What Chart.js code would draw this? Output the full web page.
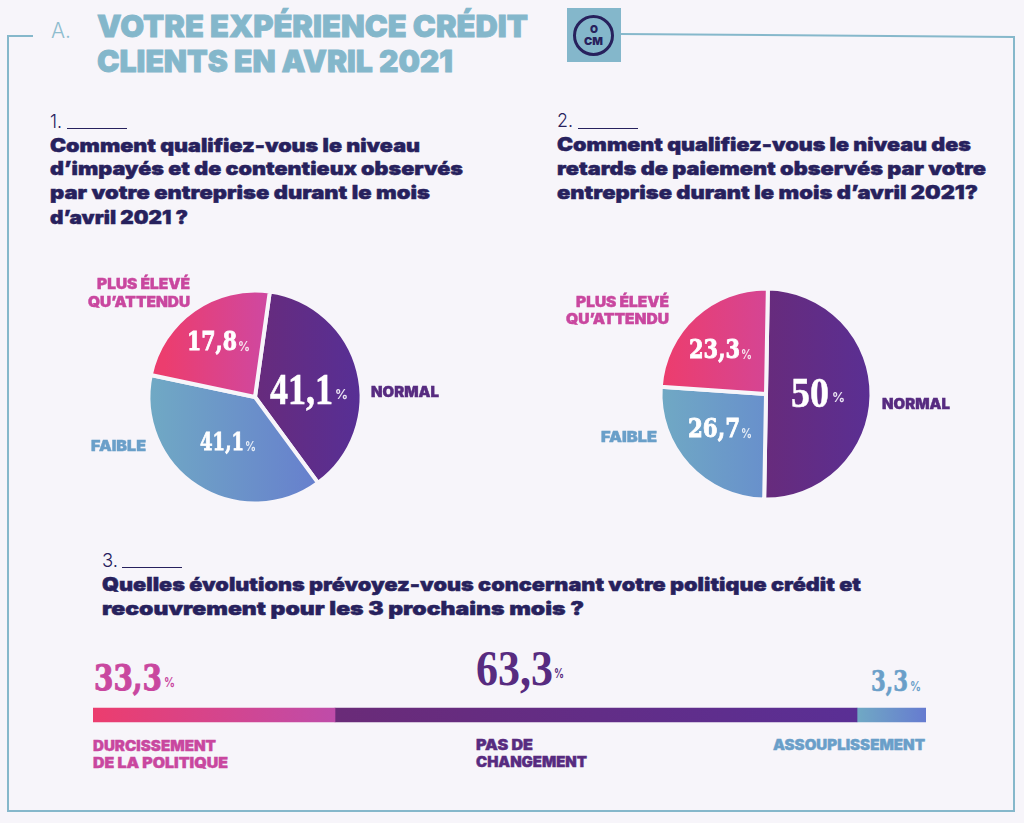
<!DOCTYPE html>
<html lang="fr"><head><meta charset="utf-8">
<script src="https://cdn.jsdelivr.net/npm/chart.js@4"></script>
<style>
html,body{margin:0;padding:0;background:#f7f5fa;}
#page{position:relative;width:1024px;height:823px;overflow:hidden;background:#f7f5fa;}
canvas{position:absolute;display:block;}
.t{position:absolute;white-space:nowrap;line-height:1;transform-origin:0 50%;}
.r{position:absolute;}
</style></head><body><div id="page">
<svg class="r" style="left:0;top:0" width="1024" height="823"><polyline points="33,36 8,36 8,811 1014,811 1014,37 620,34" fill="none" stroke="#86b8cb" stroke-width="2"/></svg>
<div class="r" style="left:567px;top:8px;width:54px;height:54px;background:#84b7cb"></div>
<div class="r" style="left:573px;top:15px;width:35px;height:35px;border:3px solid #27215d;border-radius:50%"></div>
<canvas id="pie1" width="240" height="240" style="left:135px;top:277px"></canvas>
<canvas id="pie2" width="240" height="240" style="left:645.5px;top:274px"></canvas>
<canvas id="bar" width="833" height="30" style="left:93px;top:700px"></canvas>
</div>
<script>
// Categories and printed figures
const pieCategories = ["NORMAL", "FAIBLE", "PLUS ÉLEVÉ QU’ATTENDU"];
const pie1Printed = ["41,1", "41,1", "17,8"];
const pie2Printed = ["50", "26,7", "23,3"];
const barCategories = ["DURCISSEMENT DE LA POLITIQUE", "PAS DE CHANGEMENT", "ASSOUPLISSEMENT"];
const barPrinted = ["33,3", "63,3", "3,3"];
// Shares as actually drawn in the picture (they differ from the printed figures)
const pie1Drawn = [37.7, 38.4, 23.9];
const pie2Drawn = [50, 25.8, 24.2];
const barDrawn = [29.05, 62.67, 8.28];

const BG = "#f7f5fa", NAVY = "#27215d", TEAL = "#84b7cb", PINK = "#c9479f", PURPLE = "#572b80", BLUE = "#6a9fc9";
const SANS = "Inter, 'Noto Sans', sans-serif";
const SERIF = "'DejaVu Serif', serif", SERIF2 = "'Liberation Serif', serif";

const pie1Grad = [["#672b7c", "#572f95"], ["#70a9c4", "#667dce"], ["#ec3d6e", "#cf48a0"]];
const pie2Grad = [["#672b7c", "#5a2f93"], ["#70a9c4", "#6890cc"], ["#ec3d6e", "#d54593"]];

function gradient(chart, x0, x1, stops) {
  const a = chart.chartArea;
  if (!a) return stops[0];
  const w = a.right - a.left;
  const g = chart.ctx.createLinearGradient(a.left + w * x0, 0, a.left + w * x1, 0);
  g.addColorStop(0, stops[0]); g.addColorStop(1, stops[1]);
  return g;
}
function pie(id, values, rotation, spans, radius, grads) {
  new Chart(document.getElementById(id), {
    type: "pie",
    data: { labels: pieCategories, datasets: [{
      data: values, borderWidth: 4, borderColor: BG,
      backgroundColor: c => gradient(c.chart, spans[c.dataIndex][0], spans[c.dataIndex][1], grads[c.dataIndex])
    }]},
    options: { responsive: false, animation: false, rotation: rotation, radius: radius,
      layout: { padding: 0 }, plugins: { legend: { display: false }, tooltip: { enabled: false } } }
  });
}
pie("pie1", pie1Drawn, 8, [[.5, .94], [.06, .8], [.12, .55]], 106.5, pie1Grad);
pie("pie2", pie2Drawn, 1, [[.5, .94], [.06, .5], [.08, .5]], 105.5, pie2Grad);

const barGrad = [["#ec3d6e", "#bf4ca9"], ["#6a2b78", "#5a2f95"], ["#70a9c4", "#667bd0"]];
let cum = 0;
const barSets = barDrawn.map((v, i) => {
  const from = cum / 100, to = (cum + v) / 100; cum += v;
  return { label: barCategories[i], data: [v], barThickness: 14, borderWidth: 0,
    backgroundColor: c => gradient(c.chart, from, to, barGrad[i]) };
});
new Chart(document.getElementById("bar"), {
  type: "bar",
  data: { labels: ["3"], datasets: barSets },
  options: { indexAxis: "y", responsive: false, animation: false, layout: { padding: 0 },
    scales: { x: { stacked: true, min: 0, max: 100, display: false }, y: { stacked: true, display: false } },
    plugins: { legend: { display: false }, tooltip: { enabled: false } } }
});

const page = document.getElementById("page");
// text, left x, centre y, fitted width, font size, weight, colour, family, stroke
function T(s, x, y, w, size, weight, color, fam, stroke) {
  const d = document.createElement("div");
  d.className = "t"; d.textContent = s;
  d.style.cssText = `left:${x}px;top:${y}px;font:${weight} ${size}px ${fam || SANS};color:${color};-webkit-text-stroke:${stroke || 0}px ${color}`;
  page.appendChild(d);
  const nat = d.getBoundingClientRect().width;
  d.style.transform = `translateY(-50%) scaleX(${w / nat})`;
}
function rule(x, y, w) {
  const d = document.createElement("div"); d.className = "r";
  d.style.cssText = `left:${x}px;top:${y}px;width:${w}px;height:1px;background:${NAVY}`;
  page.appendChild(d);
}
const Q = .45, L = .4;
T("A.", 51, 30, 20, 22, 300, "#8fbdcf");
T("VOTRE EXPÉRIENCE CRÉDIT", 97, 26, 431, 30, 900, TEAL, SANS, .8);
T("CLIENTS EN AVRIL 2021", 97, 61, 356, 30, 900, TEAL, SANS, .8);
T("O", 589.5, 29, 8, 11, 900, NAVY);
T("CM", 584, 41, 19, 11, 900, NAVY);

T("1.", 50, 121, 12, 19, 300, NAVY); rule(67, 128, 60);
["Comment qualifiez-vous le niveau|420|145", "d’impayés et de contentieux observés|463|168", "par votre entreprise durant le mois|430|192", "d’avril 2021 ?|188|217"]
  .forEach(l => { const p = l.split("|"); T(p[0], 50, +p[2], p[1] - 50, 18.5, 900, NAVY, SANS, Q); });
T("2.", 557, 120, 16, 19, 300, NAVY); rule(578, 128, 60);
["Comment qualifiez-vous le niveau des|971|144", "retards de paiement observés par votre|986|168", "entreprise durant le mois d’avril 2021?|978|192"]
  .forEach(l => { const p = l.split("|"); T(p[0], 557, +p[2], p[1] - 557, 18.5, 900, NAVY, SANS, Q); });
T("3.", 102, 560, 16, 19, 300, NAVY); rule(122, 567, 60);
T("Quelles évolutions prévoyez-vous concernant votre politique crédit et", 102, 584, 759, 18.5, 900, NAVY, SANS, Q);
T("recouvrement pour les 3 prochains mois ?", 102, 608, 482, 18.5, 900, NAVY, SANS, Q);

// Pie category labels
T("PLUS ÉLEVÉ", 97, 283, 93, 14, 900, PINK, SANS, L); T("QU’ATTENDU", 88, 301, 102, 14, 900, PINK, SANS, L);
T(pieCategories[0], 371, 391, 68, 14, 900, PURPLE, SANS, L); T(pieCategories[1], 91, 445, 55, 14, 900, BLUE, SANS, L);
T("PLUS ÉLEVÉ", 576, 301, 93, 14, 900, PINK, SANS, L); T("QU’ATTENDU", 566, 318, 103, 14, 900, PINK, SANS, L);
T(pieCategories[1], 601, 436, 56, 14, 900, BLUE, SANS, L); T(pieCategories[0], 882, 403, 68, 14, 900, PURPLE, SANS, L);

// Printed percentages
function P(s, x, y, w, size, fam, col, stroke, px, pw, pc, ps) {
  T(s, x, y, w, size, 700, col, fam, stroke);
  T("%", px, y + 5, pw, ps, 700, pc);
}
P(pie1Printed[2], 187, 341, 50, 26, SERIF, "#fff", .9, 238, 12, "#f7e3ee", 13);
P(pie1Printed[0], 270, 389, 63, 44, SERIF2, "#fff", .6, 335, 13, "#e9e3f2", 13);
P(pie1Printed[1], 200, 441, 44, 25, SERIF, "#fff", .8, 245, 11, "#e6edf7", 13);
P(pie2Printed[2], 689, 349, 51, 26, SERIF, "#fff", .9, 741, 11, "#f7e3ee", 13);
P(pie2Printed[0], 791, 392, 38, 43, SERIF2, "#fff", .5, 832, 13, "#e9e3f2", 13);
P(pie2Printed[1], 688, 428, 52, 26, SERIF, "#fff", .9, 741, 11, "#e6edf7", 13);
P(barPrinted[0], 94, 677, 68, 35, SERIF, PINK, 1, 164, 11, PINK, 13);
P(barPrinted[1], 476, 668, 77, 50, SERIF2, PURPLE, 0, 554, 10, PURPLE, 13);
P(barPrinted[2], 871, 681, 37, 28, SERIF, BLUE, .6, 910, 11, BLUE, 13);

// Bar category labels
T("DURCISSEMENT", 93, 745, 123, 14, 900, PINK, SANS, L); T("DE LA POLITIQUE", 93, 762, 135, 14, 900, PINK, SANS, L);
T("PAS DE", 476, 744, 57, 14, 900, PURPLE, SANS, L); T("CHANGEMENT", 476, 761, 111, 14, 900, PURPLE, SANS, L);
T(barCategories[2], 773, 744, 152, 14, 900, BLUE, SANS, L);
</script></body></html>
